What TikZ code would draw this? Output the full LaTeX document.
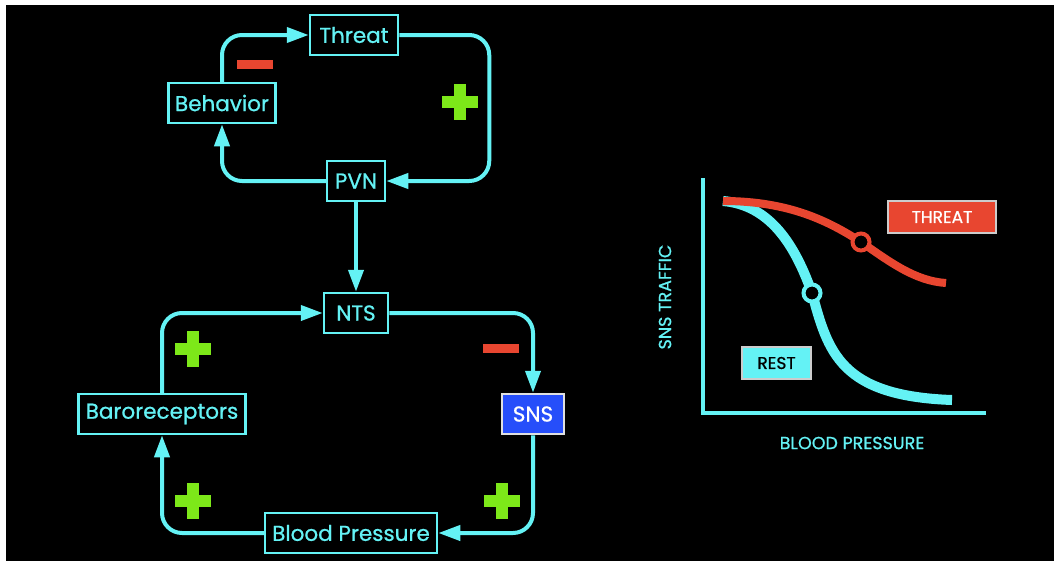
\documentclass[tikz,border=0pt]{standalone}
\usepackage{fontspec}
\setmainfont{Poppins}
\newfontfamily\comicfont{Poppins}[FakeBold=0.8]
\usetikzlibrary{arrows.meta}
\definecolor{cy}{RGB}{100,242,245}
\definecolor{rd}{RGB}{232,70,48}
\definecolor{gr}{RGB}{125,232,25}
\definecolor{bl}{RGB}{38,78,250}
\tikzset{
  box/.style={draw=cy, line width=2.5pt, text=cy, minimum height=40pt, inner sep=2pt,
    font=\comicfont\fontsize{21.5}{23}\selectfont},
  conn/.style={draw=cy, line width=4pt, rounded corners=20pt,
    -{Triangle[length=22pt,width=15pt]}},
  plussign/.pic={\fill[gr] (-18,-6) rectangle (18,6); \fill[gr] (-6,-18) rectangle (6,18);},
  minussign/.pic={\fill[rd] (-18,-4.5) rectangle (18,4.5);},
  axislabel/.style={text=cy, font=\comicfont\fontsize{17.5}{19}\selectfont},
  legendbox/.style={draw=white!80!black, line width=1.5pt, minimum height=32pt,
    font=\comicfont\fontsize{17}{19}\selectfont},
}
\begin{document}
\begin{tikzpicture}[x=1pt,y=-1pt]
\useasboundingbox (0,0) rectangle (1054,560);
\fill[white] (0,0) rectangle (1054,560);
\fill[black] (6,5) rectangle (1062,568);

% upper loop
\node[box, minimum width=88pt] (threat) at (354,35) {Threat};
\node[box, minimum width=107pt] (behavior) at (222,103) {Behavior};
\node[box, minimum width=58pt] (pvn) at (356,181) {PVN};
% lower loop
\node[box, minimum width=64pt] (nts) at (356,313) {NTS};
\node[box, minimum width=167pt] (baro) at (162,414) {Baroreceptors};
\node[box, minimum width=62pt, fill=bl, draw=white!88!black, text=white] (sns) at (533,414) {SNS};
\node[box, minimum width=172pt] (bp) at (351,533) {Blood Pressure};

\draw[conn] (behavior.north) |- (threat.west);
\draw[conn] (threat.east) -- ++(90,0) |- (pvn.east);
\draw[conn] (pvn.west) -| (behavior.south);
\draw[conn] (pvn.south) -- (nts.north);
\draw[conn] (baro.north) |- (nts.west);
\draw[conn] (nts.east) -| (sns.north);
\draw[conn] (sns.south) |- (bp.east);
\draw[conn] (bp.west) -| (baro.south);

\pic at (255,64.5) {minussign};
\pic at (460,102) {plussign};
\pic at (193,349) {plussign};
\pic at (501,348.5) {minussign};
\pic at (193,501) {plussign};
\pic at (502,501) {plussign};

% graph
\draw[cy, line width=4pt] (703,178) -- (703,413) -- (986,413);
\node[axislabel, rotate=90] (ylab) at (665,297) {SNS TRAFFIC};
\node[axislabel] (xlab) at (852,443) {BLOOD PRESSURE};
\draw[cy, line width=10pt] (723,201) .. controls (770,205) and (795,245) .. (812,293)
   .. controls (828,352) and (840,396) .. (952,400);
\draw[rd, line width=8pt] (723,201) .. controls (790,201) and (830,222) .. (861,242)
   .. controls (890,262) and (915,281) .. (946,283);
\draw[cy, line width=4pt, fill=black] (812,293) circle (8.5);
\draw[rd, line width=4pt, fill=black] (861,242) circle (8.5);
\node[legendbox, fill=rd, text=white, minimum width=108pt] (threatlab) at (942,217) {THREAT};
\node[legendbox, fill=cy, text=black, minimum width=69pt] (restlab) at (776.5,363) {REST};
\end{tikzpicture}
\end{document}
